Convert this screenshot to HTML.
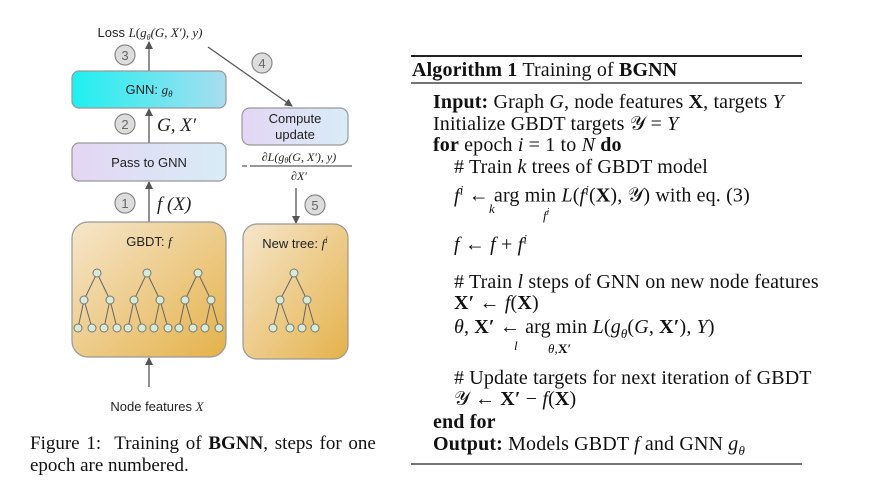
<!DOCTYPE html>
<html><head><meta charset="utf-8"><style>
body{margin:0;width:882px;height:487px;background:#fff;position:relative;overflow:hidden;font-family:"Liberation Serif",serif;color:#111}
.l{position:absolute;font-size:20px;white-space:nowrap;line-height:20px;letter-spacing:0.15px}
i{font-style:italic}
</style></head><body>
<svg width="882" height="487" style="position:absolute;left:0;top:0" font-family="Liberation Sans,sans-serif">
<defs>
<linearGradient id="cy" x1="0" x2="1"><stop offset="0" stop-color="#1ef0f0"/><stop offset="1" stop-color="#a8ddf0"/></linearGradient>
<linearGradient id="pu" x1="0" x2="1"><stop offset="0" stop-color="#e4d6f4"/><stop offset="1" stop-color="#d8ecf6"/></linearGradient>
<linearGradient id="or" x1="0" y1="0" x2="1" y2="1"><stop offset="0" stop-color="#f6e6cc"/><stop offset="1" stop-color="#e4b24a"/></linearGradient>
<marker id="a" markerWidth="8" markerHeight="8" refX="7" refY="4" orient="auto" markerUnits="userSpaceOnUse"><path d="M0,0 L8,4 L0,8z" fill="#555"/></marker>
</defs>
<g stroke="#555" stroke-width="1.3" fill="none">
<line x1="149" y1="71" x2="149" y2="42" marker-end="url(#a)"/>
<line x1="149" y1="143" x2="149" y2="109" marker-end="url(#a)"/>
<line x1="149" y1="222" x2="149" y2="182" marker-end="url(#a)"/>
<line x1="149" y1="387" x2="149" y2="358" marker-end="url(#a)"/>
<line x1="208" y1="47" x2="292" y2="106" marker-end="url(#a)"/>
<line x1="296" y1="188" x2="296" y2="223" marker-end="url(#a)"/>
</g>
<rect x="72" y="71" width="154" height="37" rx="7" fill="url(#cy)" stroke="#999" stroke-width="1.2"/>
<rect x="72" y="143" width="154" height="38" rx="7" fill="url(#pu)" stroke="#999" stroke-width="1.2"/>
<rect x="242" y="108" width="106" height="37" rx="8" fill="url(#pu)" stroke="#999" stroke-width="1.2"/>
<rect x="72" y="222" width="154" height="135" rx="16" fill="url(#or)" stroke="#999" stroke-width="1.2"/>
<rect x="243" y="224" width="105" height="135" rx="14" fill="url(#or)" stroke="#999" stroke-width="1.2"/>
<g fill="#ddd" stroke="#888" stroke-width="1.2">
<circle cx="125" cy="55" r="10"/><circle cx="125" cy="124" r="10"/><circle cx="125" cy="203" r="10"/>
<circle cx="262" cy="63" r="10"/><circle cx="315" cy="205" r="10"/>
</g>
<g font-size="13" fill="#666" text-anchor="middle">
<text x="125" y="60">3</text><text x="125" y="129">2</text><text x="125" y="208">1</text><text x="262" y="68">4</text><text x="315" y="210">5</text>
</g>
<g font-size="13" fill="#222" text-anchor="middle">
<text x="149" y="94">GNN: <tspan font-family="Liberation Serif" font-style="italic">g</tspan><tspan font-family="Liberation Serif" font-style="italic" font-size="9" dy="3">θ</tspan></text>
<text x="149" y="167">Pass to GNN</text>
<text x="295" y="123">Compute</text><text x="295" y="139">update</text>
<text x="149" y="246">GBDT: <tspan font-family="Liberation Serif" font-style="italic">f</tspan></text>
<text x="295" y="248">New tree: <tspan font-family="Liberation Serif" font-style="italic">f</tspan><tspan font-family="Liberation Serif" font-style="italic" font-size="9" dy="-5">i</tspan></text>
<text x="157" y="411">Node features <tspan font-family="Liberation Serif" font-style="italic">X</tspan></text>
<text x="150" y="37">Loss <tspan font-family="Liberation Serif" font-style="italic">L</tspan><tspan font-family="Liberation Serif">(</tspan><tspan font-family="Liberation Serif" font-style="italic">g<tspan font-size="8" dy="3">θ</tspan><tspan dy="-3">(G, X′), y)</tspan></tspan></text>
</g>
<g font-family="Liberation Serif" font-style="italic" font-size="19" fill="#222">
<text x="157" y="131">G, X′</text><text x="157" y="210">f (X)</text>
</g>
<g font-family="Liberation Serif" font-style="italic" font-size="12" fill="#222" text-anchor="middle">
<text x="299" y="161">∂L(g<tspan font-size="8" dy="2">θ</tspan><tspan dy="-2">(G, X′), y)</tspan></text>
<text x="299" y="180">∂X′</text>
</g>
<line x1="250" y1="166" x2="352" y2="166" stroke="#333" stroke-width="1"/>
<line x1="242" y1="166" x2="247" y2="166" stroke="#333" stroke-width="1"/>
<line x1="411" y1="56" x2="802" y2="56" stroke="#222" stroke-width="2"/>
<line x1="411" y1="83" x2="802" y2="83" stroke="#222" stroke-width="1.2"/>
<line x1="411" y1="464" x2="802" y2="464" stroke="#222" stroke-width="1.2"/>
<g stroke="#666" stroke-width="1">
<path d="M97,273 L84,300 M97,273 L110,300 M84,300 L78,328 M84,300 L92,328 M110,300 L104,328 M110,300 L117,328"/>
<path d="M147,273 L134,300 M147,273 L160,300 M134,300 L128,328 M134,300 L142,328 M160,300 L154,328 M160,300 L168,328"/>
<path d="M198,273 L185,300 M198,273 L211,300 M185,300 L179,328 M185,300 L193,328 M211,300 L205,328 M211,300 L219,328"/>
<path d="M294,273 L280,300 M294,273 L307,300 M280,300 L273,328 M280,300 L290,328 M307,300 L302,328 M307,300 L315,328"/>
</g>
<g stroke="#777" stroke-width="1" fill="#d6ecd6">
<circle cx="97" cy="273" r="4"/><circle cx="84" cy="300" r="4"/><circle cx="110" cy="300" r="4"/><circle cx="78" cy="328" r="4"/><circle cx="92" cy="328" r="4"/><circle cx="104" cy="328" r="4"/><circle cx="117" cy="328" r="4"/>
<circle cx="147" cy="273" r="4"/><circle cx="134" cy="300" r="4"/><circle cx="160" cy="300" r="4"/><circle cx="128" cy="328" r="4"/><circle cx="142" cy="328" r="4"/><circle cx="154" cy="328" r="4"/><circle cx="168" cy="328" r="4"/>
<circle cx="198" cy="273" r="4"/><circle cx="185" cy="300" r="4"/><circle cx="211" cy="300" r="4"/><circle cx="179" cy="328" r="4"/><circle cx="193" cy="328" r="4"/><circle cx="205" cy="328" r="4"/><circle cx="219" cy="328" r="4"/>
<circle cx="294" cy="273" r="4"/><circle cx="280" cy="300" r="4"/><circle cx="307" cy="300" r="4"/><circle cx="273" cy="328" r="4"/><circle cx="290" cy="328" r="4"/><circle cx="302" cy="328" r="4"/><circle cx="315" cy="328" r="4"/>
</g>
</svg>
<div class="l" style="left:30px;top:434px;font-size:19px;word-spacing:2px;letter-spacing:0">Figure 1:&nbsp; Training of <b>BGNN</b>, steps for one</div>
<div class="l" style="left:30px;top:456px;font-size:19px;letter-spacing:0">epoch are numbered.</div>
<div class="l" style="left:412px;top:60px"><b>Algorithm 1</b> Training of <b>BGNN</b></div>
<div class="l" style="left:433px;top:92px"><b>Input:</b> Graph <i>G</i>, node features <b>X</b>, targets <i>Y</i></div>
<div class="l" style="left:433px;top:114px">Initialize GBDT targets 𝒴 = <i>Y</i></div>
<div class="l" style="left:433px;top:135px"><b>for</b> epoch <i>i</i> = 1 to <i>N</i> <b>do</b></div>
<div class="l" style="left:454px;top:157px"># Train <i>k</i> trees of GBDT model</div>
<div class="l" style="left:454px;top:180px"><i>f<sup style="font-size:13px">i</sup></i> ← arg min <i>L</i>(<i>f<sup style="font-size:13px">i</sup></i>(<b>X</b>), 𝒴) with eq. (3)</div>
<div class="l" style="left:489px;top:199px;font-size:13px"><i>k</i></div>
<div class="l" style="left:543px;top:202px;font-size:13px"><i>f<sup style="font-size:9px">i</sup></i></div>
<div class="l" style="left:454px;top:229px"><i>f</i> ← <i>f</i> + <i>f<sup style="font-size:13px">i</sup></i></div>
<div class="l" style="left:454px;top:272px"># Train <i>l</i> steps of GNN on new node features</div>
<div class="l" style="left:454px;top:293px"><b>X′</b> ← <i>f</i>(<b>X</b>)</div>
<div class="l" style="left:454px;top:317px"><i>θ</i>, <b>X′</b> ← arg min <i>L</i>(<i>g<sub style="font-size:13px">θ</sub></i>(<i>G</i>, <b>X′</b>), <i>Y</i>)</div>
<div class="l" style="left:514px;top:336px;font-size:13px"><i>l</i></div>
<div class="l" style="left:548px;top:339px;font-size:13px"><i>θ</i>,<b>X′</b></div>
<div class="l" style="left:454px;top:368px"># Update targets for next iteration of GBDT</div>
<div class="l" style="left:454px;top:389px">𝒴 ← <b>X′</b> − <i>f</i>(<b>X</b>)</div>
<div class="l" style="left:433px;top:412px"><b>end for</b></div>
<div class="l" style="left:433px;top:434px"><b>Output:</b> Models GBDT <i>f</i> and GNN <i>g<sub style="font-size:13px">θ</sub></i></div>
</body></html>
